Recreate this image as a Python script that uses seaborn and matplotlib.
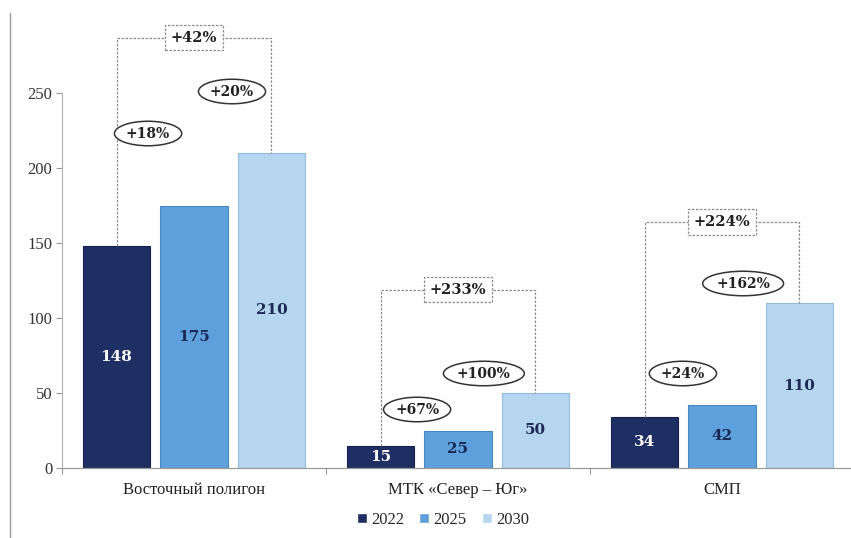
import numpy as np
import pandas as pd
import seaborn as sns
import matplotlib.pyplot as plt
from matplotlib.lines import Line2D

# Freight volumes by corridor
categories = ["Восточный полигон", "МТК «Север – Юг»", "СМП"]
years = ["2022", "2025", "2030"]
values_2022 = [148, 15, 34]
values_2025 = [175, 25, 42]
values_2030 = [210, 50, 110]
y_ticks = [0, 50, 100, 150, 200, 250]

# Annotation layout (data coordinates)
bracket_tops = [287, 119, 164]
step_label_pos = [
    [(-0.174, 223), (0.144, 251)],
    [(0.845, 39), (1.098, 63)],
    [(1.852, 63), (2.08, 123)],
]

bar_colors = ["#1f2e63", "#5ea0dc", "#b6d6f0"]
edge_colors = ["#16224c", "#4a87c2", "#92bbdd"]
label_colors = ["white", "#1c2a55", "#1c2a55"]

df = pd.DataFrame({
    "category": categories * 3,
    "year": [y for y in years for _ in categories],
    "value": values_2022 + values_2025 + values_2030,
})

sns.set_theme(style="white")
plt.rcParams["font.family"] = ["Liberation Serif", "DejaVu Serif"]

fig = plt.figure(figsize=(8.51, 5.38), dpi=100)
ax = fig.add_axes([62 / 851, 70 / 538, 792 / 851, 375 / 538])

sns.barplot(data=df, x="category", y="value", hue="year", order=categories,
            hue_order=years, palette=bar_colors, saturation=1, width=0.88,
            gap=0.13, ax=ax)

handles, labels = ax.get_legend_handles_labels()
ax.get_legend().remove()

for cont, ec, lc in zip(ax.containers, edge_colors, label_colors):
    for p in cont:
        p.set_edgecolor(ec)
        p.set_linewidth(0.8)
    ax.bar_label(cont, label_type="center", color=lc, fontsize=11,
                 fontweight="bold", family="DejaVu Serif")

line_kw = dict(color="#8c8c8c", lw=0.9, ls=(0, (2, 1.2)), clip_on=False, zorder=3)
vals = [values_2022, values_2025, values_2030]

for i in range(len(categories)):
    pts = []
    for c in range(3):
        p = ax.containers[c][i]
        pts.append((p.get_x() + p.get_width() / 2, p.get_height()))
    (x0, y0), _, (x2, y2) = pts
    top = bracket_tops[i]
    ax.plot([x0, x0, x2, x2], [y0, top, top, y2], **line_kw)
    total = int(round((vals[2][i] / vals[0][i] - 1) * 100))
    ax.text((x0 + x2) / 2, top, f"+{total}%", ha="center", va="center",
            fontsize=10.5, fontweight="bold", family="DejaVu Serif",
            color="#222", zorder=5, clip_on=False,
            bbox=dict(boxstyle="square,pad=0.4", fc="white", ec="#8c8c8c",
                      lw=0.9, ls=(0, (2, 1.2))))
    for k in range(2):
        step = int(round((vals[k + 1][i] / vals[k][i] - 1) * 100))
        sx, sy = step_label_pos[i][k]
        ax.text(sx, sy, f"+{step}%", ha="center", va="center",
                fontsize=10, fontweight="bold", family="DejaVu Serif",
                color="#222", zorder=6, clip_on=False,
                bbox=dict(boxstyle="ellipse,pad=0.12", fc="white",
                          ec="#333", lw=1.1))

ax.set_xlim(-0.5, 2.5)
ax.set_ylim(0, 250)
ax.set_yticks(y_ticks)
ax.set_xlabel("")
ax.set_ylabel("")
ax.set_xticks([-0.5, 0.5, 1.5, 2.5], minor=True)
ax.tick_params(axis="y", left=True, length=4, width=0.8, color="#999",
               pad=3, labelsize=12, labelcolor="#333")
ax.tick_params(axis="x", which="major", bottom=False, length=0, pad=10,
               labelsize=12, labelcolor="#222")
ax.tick_params(axis="x", which="minor", bottom=True, length=4, width=0.8,
               color="#999")

for s in ["top", "right"]:
    ax.spines[s].set_visible(False)
ax.spines["left"].set_color("#b0b0b0")
ax.spines["left"].set_linewidth(0.8)
ax.spines["bottom"].set_color("#999")
ax.spines["bottom"].set_linewidth(0.9)

fig.legend(handles, labels, loc="center", bbox_to_anchor=(443 / 851, 18 / 538),
           ncol=3, frameon=False, fontsize=12, handlelength=0.6,
           handleheight=0.6, handletextpad=0.25, columnspacing=0.9)

fig.add_artist(Line2D([10 / 851, 10 / 851], [0, 525 / 538],
                      transform=fig.transFigure, color="#9a9a9a", lw=1))

fig.savefig("out.png", dpi=100, facecolor="white")
